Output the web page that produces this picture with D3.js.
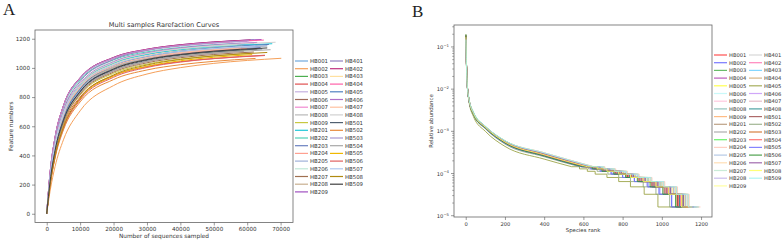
<!DOCTYPE html>
<html>
<head>
<meta charset="utf-8">
<script src="https://cdn.jsdelivr.net/npm/d3@7"></script>
<style>
  body { margin: 0; background: #fff; }
  svg text { font-family: "DejaVu Sans", sans-serif; fill: #333; }
</style>
</head>
<body>
<div id="chart"></div>
<script>
// ---------- data: panel A (rarefaction) ----------
const sampleNames = ['HB001','HB002','HB003','HB004','HB005','HB006','HB007','HB008','HB009',
  'HB201','HB202','HB203','HB204','HB205','HB206','HB207','HB208','HB209',
  'HB401','HB402','HB403','HB404','HB405','HB406','HB407','HB408',
  'HB501','HB502','HB503','HB504','HB505','HB506','HB507','HB508','HB509'];

const depthGrid = [0, 1000, 2500, 5000, 10000, 20000, 30000, 40000, 50000];

const richness = [
  [0,248,477,689,886,1033,1094,1127,1148],
  [0,155,324,507,706,879,958,1002,1031],
  [0,240,462,667,857,1000,1059,1091,1111],
  [0,211,414,611,800,947,1009,1043,1064],
  [0,278,521,735,926,1064,1119,1149,1168],
  [0,218,429,632,828,980,1044,1079,1101],
  [0,279,523,738,930,1068,1124,1154,1173],
  [0,244,469,678,871,1017,1077,1109,1130],
  [0,215,421,621,814,963,1026,1061,1083],
  [0,247,475,686,882,1029,1090,1123,1143],
  [0,276,517,729,918,1055,1110,1140,1159],
  [0,222,436,642,841,996,1061,1097,1119],
  [0,242,465,672,864,1008,1068,1100,1120],
  [0,224,439,647,848,1004,1070,1106,1128],
  [0,273,513,723,911,1047,1101,1131,1150],
  [0,216,425,626,821,971,1035,1070,1092],
  [0,240,462,667,857,1000,1059,1091,1111],
  [0,280,525,741,933,1072,1128,1159,1178],
  [0,254,488,706,907,1058,1121,1155,1176],
  [0,280,525,741,933,1072,1128,1159,1178],
  [0,246,473,683,879,1025,1085,1118,1139],
  [0,279,523,738,930,1068,1124,1154,1173],
  [0,225,443,653,855,1012,1078,1115,1138],
  [0,250,481,695,893,1042,1103,1136,1157],
  [0,243,467,675,868,1012,1072,1105,1125],
  [0,249,479,692,889,1037,1099,1132,1153],
  [0,220,432,637,835,988,1052,1088,1110],
  [0,192,383,575,767,920,986,1022,1045],
  [0,279,523,738,930,1068,1124,1154,1173],
  [0,218,429,632,828,980,1044,1079,1101],
  [0,197,393,590,787,944,1011,1049,1073],
  [0,195,390,585,780,936,1003,1040,1064],
  [0,245,471,681,875,1021,1081,1114,1134],
  [0,198,397,595,793,952,1020,1058,1082],
  [0,221,434,639,838,992,1057,1092,1115]
];

const finalDepth = [62000,70200,61000,65300,60000,59000,63000,66000,61000,
  67500,58000,64000,60000,66000,57000,62000,63000,64300,
  62000,61000,59000,65000,66500,63000,58000,68500,
  64500,62500,60500,67000,61500,65300,62500,66000,66000];

const finalRichness = [1165,1066,1126,1085,1181,1115,1189,1150,1099,
  1166,1169,1140,1134,1152,1159,1109,1128,1195,
  1193,1192,1152,1191,1161,1175,1137,1176,
  1131,1065,1186,1125,1091,1087,1151,1106,1137];

const colorsA = ['#6fa8dc','#f5a05a','#4caf50','#e05050','#c5b0e0','#a06a5a','#f08ad0','#b8b8b8','#c8c840',
  '#20c8d8','#50d0b8','#6a80c0','#ffa090','#a0b0d8','#c0e8d8','#a07050','#c8b090','#a050c0',
  '#9080c0','#c03080','#ffe0a0','#ff60a8','#5080c0','#b070c8','#ffc0a0','#d0d0d0',
  '#506070','#e88a3a','#a898d0','#a8a8a8','#f0b800','#e06060','#b0c8f0','#b08a10','#404040'];

const ticksA_x = [0, 10000, 20000, 30000, 40000, 50000, 60000, 70000];
const ticksA_y = [0, 200, 400, 600, 800, 1000, 1200];

// ---------- data: panel B (rank abundance) ----------
const headRanks = [1, 3, 7, 15, 40, 100, 200, 400];
const seqDepth = 62000;
const tailCounts = [9, 8, 7, 6, 5, 4, 3, 2, 1];

const headAbund = [
  [0.18,0.058,0.015,0.0060,0.0025,0.0012,0.00054,0.00027],
  [0.16,0.052,0.014,0.0060,0.0026,0.00125,0.00055,0.00027],
  [0.17,0.056,0.015,0.0063,0.0026,0.00127,0.00057,0.00029],
  [0.19,0.060,0.016,0.0062,0.0025,0.00118,0.00053,0.00027],
  [0.15,0.050,0.014,0.0063,0.0027,0.0013,0.00059,0.00030],
  [0.20,0.062,0.015,0.0061,0.0026,0.00126,0.00058,0.00030],
  [0.16,0.054,0.015,0.0064,0.0027,0.0013,0.00058,0.00029],
  [0.17,0.057,0.015,0.0062,0.0026,0.00124,0.00056,0.00028],
  [0.18,0.060,0.016,0.0064,0.0027,0.0013,0.00060,0.00031],
  [0.17,0.055,0.015,0.0061,0.0026,0.00125,0.00057,0.00029],
  [0.18,0.058,0.015,0.0060,0.0025,0.0012,0.00055,0.00028],
  [0.16,0.053,0.015,0.0065,0.0028,0.00132,0.00060,0.00030],
  [0.17,0.056,0.015,0.0062,0.0026,0.00126,0.00058,0.00031],
  [0.18,0.058,0.015,0.0062,0.0026,0.00125,0.00057,0.00030],
  [0.16,0.052,0.014,0.0063,0.0027,0.0013,0.00060,0.00031],
  [0.19,0.060,0.016,0.0062,0.0026,0.00124,0.00056,0.00028],
  [0.17,0.055,0.015,0.0062,0.0026,0.00126,0.00057,0.00029],
  [0.15,0.050,0.014,0.0063,0.0027,0.0013,0.00059,0.00030],
  [0.18,0.057,0.015,0.0061,0.0026,0.00124,0.00056,0.00028],
  [0.17,0.055,0.015,0.0062,0.0026,0.00125,0.00056,0.00028],
  [0.16,0.054,0.015,0.0064,0.0027,0.0013,0.00059,0.00030],
  [0.18,0.058,0.015,0.0060,0.0025,0.0012,0.00054,0.00027],
  [0.20,0.062,0.015,0.0056,0.0022,0.0010,0.00044,0.00022],
  [0.17,0.056,0.015,0.0062,0.0026,0.00125,0.00057,0.00029],
  [0.17,0.055,0.015,0.0063,0.0026,0.00127,0.00058,0.00030],
  [0.18,0.058,0.015,0.0061,0.0026,0.00124,0.00056,0.00028],
  [0.19,0.060,0.016,0.0061,0.0025,0.0012,0.00054,0.00027],
  [0.20,0.063,0.016,0.0060,0.0024,0.00115,0.00050,0.00025],
  [0.17,0.055,0.015,0.0062,0.0026,0.00125,0.00056,0.00028],
  [0.18,0.058,0.016,0.0063,0.0026,0.00124,0.00055,0.00027],
  [0.17,0.056,0.015,0.0060,0.0025,0.00118,0.00052,0.00026],
  [0.19,0.060,0.016,0.0061,0.0025,0.0012,0.00053,0.00026],
  [0.16,0.053,0.015,0.0063,0.0027,0.0013,0.00058,0.00029],
  [0.17,0.056,0.015,0.0062,0.0026,0.00125,0.00056,0.00028],
  [0.15,0.050,0.014,0.0064,0.0028,0.00132,0.00060,0.00031]
];

// rank where count 9,8,...,1 starts, then last rank
const tailRanks = [
  [600,650,700,760,820,880,950,1020,1080,1140],
  [590,640,690,745,800,860,925,985,1050,1120],
  [630,680,730,790,850,910,975,1045,1110,1165],
  [610,660,705,765,825,890,955,1025,1090,1150],
  [640,690,745,800,860,925,990,1060,1120,1175],
  [645,700,750,810,870,930,1000,1065,1125,1180],
  [635,685,740,795,855,915,985,1055,1115,1170],
  [620,670,720,780,840,900,965,1035,1100,1160],
  [650,705,760,820,880,945,1010,1075,1135,1190],
  [630,680,735,795,855,915,980,1045,1105,1160],
  [615,665,715,775,835,895,960,1030,1095,1150],
  [640,695,750,805,865,930,995,1060,1120,1175],
  [655,710,765,825,885,950,1015,1080,1140,1197],
  [645,700,755,815,875,940,1005,1070,1130,1185],
  [650,705,760,820,880,940,1005,1070,1130,1185],
  [620,670,720,780,840,900,965,1030,1095,1150],
  [630,680,735,790,850,910,975,1040,1100,1160],
  [640,690,745,800,865,925,990,1055,1115,1170],
  [610,660,710,770,830,890,955,1020,1085,1140],
  [620,670,720,780,840,900,965,1030,1095,1155],
  [640,690,745,805,865,925,990,1060,1120,1175],
  [600,650,700,760,820,880,945,1010,1075,1130],
  [540,580,620,660,720,780,840,910,980,1130],
  [625,675,725,785,845,905,970,1040,1100,1160],
  [640,690,745,805,865,930,995,1060,1120,1180],
  [615,665,715,775,835,895,960,1025,1090,1145],
  [605,655,705,765,825,885,950,1015,1080,1135],
  [580,625,670,725,780,840,905,970,1040,1110],
  [620,670,725,785,845,905,970,1035,1100,1155],
  [610,660,710,770,830,895,960,1025,1085,1140],
  [590,635,685,740,800,860,930,990,1050,1120],
  [595,645,695,755,815,875,940,1005,1070,1125],
  [630,685,735,795,855,915,980,1045,1110,1165],
  [620,670,720,780,840,905,970,1035,1100,1155],
  [650,705,760,820,880,945,1010,1075,1135,1190]
];

const colorsB = ['#ff3030','#6060ff','#50b050','#b040b0','#ffff30','#c0f8f8','#ffc0d8','#80b8b0','#ffb070',
  '#b09070','#a0a0a0','#50f050','#ffc8b8','#a8c0e0','#ffd8a8','#c0e8d0','#c0b0e8','#ffff90',
  '#d0d0d0','#ff70b0','#70d0ff','#d0a870','#98a040','#c898f8','#e0b0c0','#309090',
  '#a05050','#90a880','#d06a20','#ff6060','#7070ff','#309030','#9050a0','#ffff60','#a0f0f0'];

const ticksB_x = [0, 200, 400, 600, 800, 1000, 1200];
const ticksB_exp = [-5, -4, -3, -2, -1];

// ---------- layout ----------
const W = 783, H = 241;
const svg = d3.select('#chart').append('svg').attr('width', W).attr('height', H);

const frameA = { left: 35, right: 293, top: 30, bottom: 222.5 };
const frameB = { left: 454, right: 712, top: 25, bottom: 217 };
const tickFont = 5.6;

// panel letters
svg.append('text').attr('x', 3).attr('y', 15)
  .style('font-family', '"Liberation Serif", serif').style('font-size', '17px').style('fill', '#222')
  .text('A');
svg.append('text').attr('x', 412).attr('y', 17)
  .style('font-family', '"Liberation Serif", serif').style('font-size', '17px').style('fill', '#222')
  .text('B');

// ===== Panel A =====
const xA = d3.scaleLinear().domain([-3510, 73710]).range([frameA.left, frameA.right]);
const yA = d3.scaleLinear().domain([-60, 1260]).range([frameA.bottom, frameA.top]);

const gA = svg.append('g');

const lineA = d3.line()
  .x(d => xA(d[0]))
  .y(d => yA(d[1]))
  .curve(d3.curveMonotoneX);

sampleNames.forEach((name, i) => {
  const pts = depthGrid.map((d, j) => [d, richness[i][j]]);
  pts.push([finalDepth[i], finalRichness[i]]);
  gA.append('path')
    .datum(pts)
    .attr('d', lineA)
    .attr('fill', 'none')
    .attr('stroke', colorsA[i])
    .attr('stroke-width', 1);
});

gA.append('rect')
  .attr('x', frameA.left).attr('y', frameA.top)
  .attr('width', frameA.right - frameA.left).attr('height', frameA.bottom - frameA.top)
  .attr('fill', 'none').attr('stroke', '#666').attr('stroke-width', 0.8);

const axA_x = gA.append('g')
  .attr('transform', `translate(0,${frameA.bottom})`)
  .call(d3.axisBottom(xA).tickValues(ticksA_x).tickSize(3).tickPadding(2).tickFormat(d3.format('d')));
const axA_y = gA.append('g')
  .attr('transform', `translate(${frameA.left},0)`)
  .call(d3.axisLeft(yA).tickValues(ticksA_y).tickSize(3).tickPadding(2).tickFormat(d3.format('d')));

[axA_x, axA_y].forEach(ax => {
  ax.select('.domain').remove();
  ax.selectAll('line').attr('stroke', '#555').attr('stroke-width', 0.6);
  ax.selectAll('text').style('font-size', tickFont + 'px').attr('fill', '#333')
    .style('font-family', '"DejaVu Sans", sans-serif');
});

gA.append('text')
  .attr('x', (frameA.left + frameA.right) / 2).attr('y', 27)
  .attr('text-anchor', 'middle').style('font-size', '6.6px')
  .text('Multi samples Rarefaction Curves');

gA.append('text')
  .attr('x', (frameA.left + frameA.right) / 2).attr('y', 238)
  .attr('text-anchor', 'middle').style('font-size', '5.8px')
  .text('Number of sequences sampled');

gA.append('text')
  .attr('transform', `translate(13,${(frameA.top + frameA.bottom) / 2}) rotate(-90)`)
  .attr('text-anchor', 'middle').style('font-size', '5.8px')
  .text('Feature numbers');

// legend A
const legA = svg.append('g');
sampleNames.forEach((name, i) => {
  const col = i < 18 ? 0 : 1;
  const row = i < 18 ? i : i - 18;
  const x0 = col === 0 ? 295 : 330;
  const yy = 61 + row * 7.7;
  legA.append('line')
    .attr('x1', x0).attr('x2', x0 + 13).attr('y1', yy).attr('y2', yy)
    .attr('stroke', colorsA[i]).attr('stroke-width', 1.2);
  legA.append('text')
    .attr('x', x0 + 15).attr('y', yy + 2)
    .style('font-size', '5.4px')
    .text(name);
});

// ===== Panel B =====
const xB = d3.scaleLinear().domain([-59.8, 1255.8]).range([frameB.left, frameB.right]);
const yB = d3.scaleLog().domain([Math.pow(10, -5.03), Math.pow(10, -0.48)]).range([frameB.bottom, frameB.top]);

const gB = svg.append('g');
const clipB = svg.append('clipPath').attr('id', 'clipB');
clipB.append('rect')
  .attr('x', frameB.left).attr('y', frameB.top)
  .attr('width', frameB.right - frameB.left).attr('height', frameB.bottom - frameB.top);

const headLine = d3.line()
  .x(d => xB(d[0]))
  .y(d => yB(d[1]))
  .curve(d3.curveMonotoneX);

const stepLine = d3.line()
  .x(d => xB(d[0]))
  .y(d => yB(d[1]))
  .curve(d3.curveStepAfter);

const plotB = gB.append('g').attr('clip-path', 'url(#clipB)');
sampleNames.forEach((name, i) => {
  const tail = tailRanks[i];
  const head = headRanks.map((r, j) => [r, headAbund[i][j]]);
  head.push([tail[0], tailCounts[0] / seqDepth]);
  const steps = tailCounts.map((c, j) => [tail[j], c / seqDepth]);
  steps.push([tail[tail.length - 1], 1 / seqDepth]);

  plotB.append('path')
    .datum(head)
    .attr('d', headLine)
    .attr('fill', 'none')
    .attr('stroke', colorsB[i])
    .attr('stroke-width', 1)
    .attr('stroke-opacity', 0.85);
  plotB.append('path')
    .datum(steps)
    .attr('d', stepLine)
    .attr('fill', 'none')
    .attr('stroke', colorsB[i])
    .attr('stroke-width', 1)
    .attr('stroke-opacity', 0.85);
});

gB.append('rect')
  .attr('x', frameB.left).attr('y', frameB.top)
  .attr('width', frameB.right - frameB.left).attr('height', frameB.bottom - frameB.top)
  .attr('fill', 'none').attr('stroke', '#666').attr('stroke-width', 0.8);

const axB_x = gB.append('g')
  .attr('transform', `translate(0,${frameB.bottom})`)
  .call(d3.axisBottom(xB).tickValues(ticksB_x).tickSize(3).tickPadding(2).tickFormat(d3.format('d')));
axB_x.select('.domain').remove();
axB_x.selectAll('line').attr('stroke', '#555').attr('stroke-width', 0.6);
axB_x.selectAll('text').style('font-size', '5.2px').attr('fill', '#333')
  .style('font-family', '"DejaVu Sans", sans-serif');

// log axis: major ticks with 10^n labels, plus minor ticks
const minorB = [];
for (let e = -6; e <= 0; e++) {
  for (let m = 2; m <= 9; m++) {
    const v = m * Math.pow(10, e);
    if (v >= yB.domain()[0] && v <= yB.domain()[1]) minorB.push(v);
  }
}
const axB_y = gB.append('g').attr('transform', `translate(${frameB.left},0)`);
axB_y.selectAll('line.minor').data(minorB).join('line')
  .attr('class', 'minor')
  .attr('x1', -1.8).attr('x2', 0)
  .attr('y1', d => yB(d)).attr('y2', d => yB(d))
  .attr('stroke', '#555').attr('stroke-width', 0.5);
const majB = axB_y.selectAll('g.major').data(ticksB_exp).join('g')
  .attr('class', 'major')
  .attr('transform', d => `translate(0,${yB(Math.pow(10, d))})`);
majB.append('line').attr('x1', -3).attr('x2', 0).attr('stroke', '#555').attr('stroke-width', 0.6);
const majText = majB.append('text')
  .attr('x', -5).attr('y', 2)
  .attr('text-anchor', 'end')
  .style('font-size', '5.2px');
majText.append('tspan').text('10');
majText.append('tspan').attr('dy', -2.2).style('font-size', '3.8px').text(d => '\u2212' + Math.abs(d));

gB.append('text')
  .attr('x', (frameB.left + frameB.right) / 2).attr('y', 232)
  .attr('text-anchor', 'middle').style('font-size', '5.4px')
  .text('Species rank');

gB.append('text')
  .attr('transform', `translate(433,${(frameB.top + frameB.bottom) / 2}) rotate(-90)`)
  .attr('text-anchor', 'middle').style('font-size', '5.4px')
  .text('Relative abundance');

// legend B
const legB = svg.append('g');
sampleNames.forEach((name, i) => {
  const col = i < 18 ? 0 : 1;
  const row = i < 18 ? i : i - 18;
  const x0 = col === 0 ? 714 : 749;
  const yy = 55 + row * 7.7;
  legB.append('line')
    .attr('x1', x0).attr('x2', x0 + 13).attr('y1', yy).attr('y2', yy)
    .attr('stroke', colorsB[i]).attr('stroke-width', 1.2).attr('stroke-opacity', 0.85);
  legB.append('text')
    .attr('x', x0 + 15).attr('y', yy + 2)
    .style('font-size', '5.2px')
    .text(name);
});
</script>
</body>
</html>
